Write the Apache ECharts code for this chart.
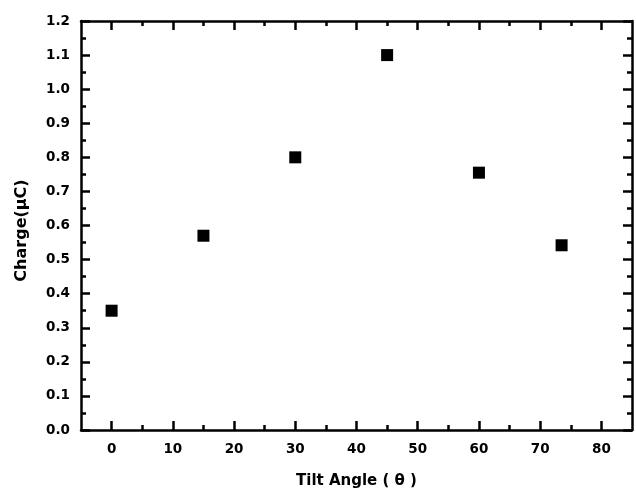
<!DOCTYPE html>
<html>
<head>
<meta charset="utf-8">
<script src="https://cdn.jsdelivr.net/npm/echarts@6/dist/echarts.min.js"></script>
<style>
  html, body { margin: 0; padding: 0; background: #fff; }
  #chart { width: 636px; height: 492px; }
</style>
</head>
<body>
<div id="chart"></div>
<script>
// Measured charge at each panel tilt angle
const tiltAngle = [0, 15, 30, 45, 60, 73.5];
const charge = [0.35, 0.57, 0.80, 1.10, 0.755, 0.542];

// Axis tick positions
const xMajorTicks = [0, 10, 20, 30, 40, 50, 60, 70, 80];
const xMinorTicks = [5, 15, 25, 35, 45, 55, 65, 75];

const FONT = 'DejaVu Sans';
const INK = '#000';

function xAxisDef(position, ticks, len, showLine, showLabels) {
  return {
    type: 'value',
    position: position,
    min: -5,
    max: 85,
    axisLine: { show: showLine, onZero: false, lineStyle: { color: INK, width: 2.5 } },
    axisTick: { show: true, inside: true, length: len, customValues: ticks,
                lineStyle: { color: INK, width: 2.5 } },
    axisLabel: { show: showLabels, customValues: ticks, margin: 12,
                 color: INK, fontFamily: FONT, fontWeight: 'bold', fontSize: 13.5 },
    splitLine: { show: false }
  };
}

function yAxisDef(position, showLabels) {
  return {
    type: 'value',
    position: position,
    min: 0,
    max: 1.2,
    interval: 0.1,
    axisLine: { show: true, onZero: false, lineStyle: { color: INK, width: 2.5 } },
    axisTick: { show: true, inside: true, length: 9, lineStyle: { color: INK, width: 2.5 } },
    minorTick: { show: true, splitNumber: 2, length: 5, lineStyle: { color: INK, width: 2.5 } },
    axisLabel: { show: showLabels, margin: 11, color: INK, fontFamily: FONT,
                 fontWeight: 'bold', fontSize: 13.5,
                 formatter: v => v.toFixed(1) },
    splitLine: { show: false }
  };
}

const bottomMajor = xAxisDef('bottom', xMajorTicks, 9, true, true);
bottomMajor.name = 'Tilt Angle ( \u03b8 )';
bottomMajor.nameLocation = 'middle';
bottomMajor.nameGap = 44;
bottomMajor.nameTextStyle = { color: INK, fontFamily: FONT, fontWeight: 'bold', fontSize: 15 };

const leftAxis = yAxisDef('left', true);
leftAxis.name = 'Charge(\u03bcC)';
leftAxis.nameLocation = 'middle';
leftAxis.nameGap = 51;
leftAxis.nameTextStyle = { color: INK, fontFamily: FONT, fontWeight: 'bold', fontSize: 16,
                           padding: [0, 10, 0, 0] };

const chart = echarts.init(document.getElementById('chart'), null, { renderer: 'canvas' });
chart.setOption({
  animation: false,
  backgroundColor: '#fff',
  grid: { left: 81, right: 4, top: 21, bottom: 62, containLabel: false, outerBoundsMode: 'none' },
  xAxis: [
    bottomMajor,
    xAxisDef('bottom', xMinorTicks, 5, false, false),
    xAxisDef('top', xMajorTicks, 9, true, false),
    xAxisDef('top', xMinorTicks, 5, false, false)
  ],
  yAxis: [
    leftAxis,
    yAxisDef('right', false)
  ],
  series: [{
    type: 'scatter',
    xAxisIndex: 0,
    yAxisIndex: 0,
    symbol: 'rect',
    symbolSize: 12,
    itemStyle: { color: INK, opacity: 1 },
    data: tiltAngle.map((a, i) => [a, charge[i]])
  }]
});
</script>
</body>
</html>
